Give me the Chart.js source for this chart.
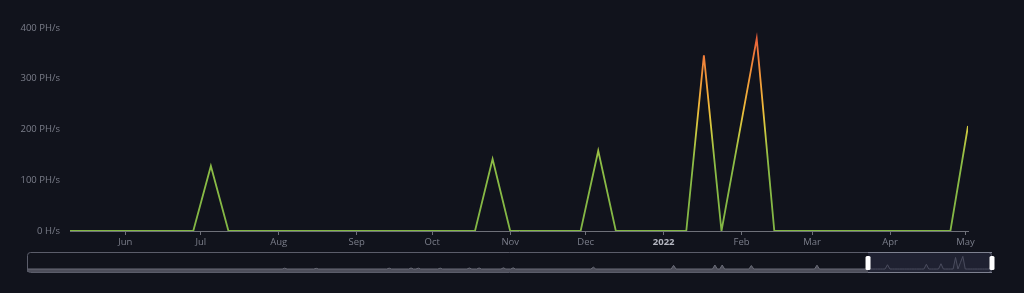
<!DOCTYPE html>
<html>
<head>
<meta charset="utf-8">
<script src="https://cdn.jsdelivr.net/npm/chart.js@4/dist/chart.umd.min.js"></script>
<style>
  html, body { margin: 0; padding: 0; background: #11131c; }
  #wrap { position: relative; width: 1024px; height: 293px; overflow: hidden; }
  #main { position: absolute; left: 0; top: 0; }
  #zoom { position: absolute; left: 0; top: 245px; }
</style>
</head>
<body>
<div id="wrap">
  <canvas id="main" width="1024" height="252"></canvas>
  <canvas id="zoom" width="1024" height="35"></canvas>
</div>
<script>
// weekly hashrate, first point = 10 May 2021 (day 0)
const weekDays = [
  0, 7, 14, 21, 28, 35, 42, 49, 56, 63, 70, 77, 84, 91, 98, 105, 112, 119, 126, 133,
  140, 147, 154, 161, 168, 175, 182, 189, 196, 203, 210, 217, 224, 231, 238, 245, 252, 259, 266, 273,
  280, 287, 294, 301, 308, 315, 322, 329, 336, 343, 350, 357
];
const hashrate = [
  0, 0, 0, 0, 0, 0, 0, 0, 128, 0, 0, 0, 0, 0, 0, 0, 0, 0, 0, 0,
  0, 0, 0, 0, 142, 0, 0, 0, 0, 0, 158, 0, 0, 0, 0, 0, 346, 0, 190, 379,
  0, 0, 0, 0, 0, 0, 0, 0, 0, 0, 0, 207
];

// month ticks (days since first point)
const monthDays = [22, 52, 83, 114, 144, 175, 205, 236, 267, 295, 326, 356];
const monthLabels = ['Jun', 'Jul', 'Aug', 'Sep', 'Oct', 'Nov', 'Dec', '2022', 'Feb', 'Mar', 'Apr', 'May'];

const yTicks = [0, 100, 200, 300, 400];
const yTickLabels = ['0 H/s', '100 PH/s', '200 PH/s', '300 PH/s', '400 PH/s'];

// older history for the zoom slider (weeks relative to first point)
const historyWeeks = [
  -346, -241, -240, -239, -228, -227, -226, -198, -197, -196, -189, -188, -187, -186, -185, -184,
  -177, -176, -175, -165, -164, -163, -161, -160, -159, -151, -150, -149, -147, -146, -145,
  -114, -113, -112, -81, -80, -79, -64, -63, -62, -61, -60, -59, -49, -48, -47, -22, -21, -20, -1
];
const historyValues = [
  0, 0, 25, 0, 0, 20, 0, 0, 25, 0, 0, 30, 0, 0, 25, 0,
  0, 25, 0, 0, 30, 0, 0, 30, 0, 0, 35, 0, 0, 35, 0,
  0, 55, 0, 0, 110, 0, 0, 120, 0, 0, 120, 0, 0, 105, 0, 0, 115, 0, 0
];

const axisGrey = '#6e7079';
const labelGrey = '#7b7e8a';
const font = { family: '"Open Sans", "Noto Sans", sans-serif', size: 9.5 };

function lineGradient(context) {
  const chart = context.chart;
  const area = chart.chartArea;
  if (!area) return '#84b845';
  const y = chart.scales.y;
  const g = chart.ctx.createLinearGradient(0, y.getPixelForValue(0), 0, y.getPixelForValue(400));
  g.addColorStop(0, '#82b645');
  g.addColorStop(0.35, '#8dbd46');
  g.addColorStop(0.5, '#cfca40');
  g.addColorStop(0.6, '#efbb3b');
  g.addColorStop(0.75, '#f29a3a');
  g.addColorStop(0.87, '#f07a3a');
  g.addColorStop(1, '#e6523a');
  return g;
}

new Chart(document.getElementById('main'), {
  type: 'line',
  data: {
    datasets: [{
      data: weekDays.map((d, i) => ({ x: d, y: hashrate[i] })),
      borderColor: lineGradient,
      borderWidth: 1.8,
      pointRadius: 0,
      tension: 0,
      fill: false
    }]
  },
  options: {
    responsive: false,
    animation: false,
    layout: { padding: { top: 28, right: 56, left: 0, bottom: 0 } },
    plugins: { legend: { display: false }, tooltip: { enabled: false } },
    scales: {
      x: {
        type: 'linear',
        min: 0,
        max: 357,
        afterBuildTicks: (scale) => { scale.ticks = monthDays.map(v => ({ value: v })); },
        afterFit: (scale) => { scale.height = 21; },
        ticks: {
          autoSkip: false,
          maxRotation: 0,
          padding: 2,
          callback: (v) => monthLabels[monthDays.indexOf(v)],
          color: (c) => c.tick && c.tick.label === '2022' ? '#b4b6c0' : labelGrey,
          font: (c) => c.tick && c.tick.label === '2022' ? { ...font, weight: 'bold' } : font
        },
        grid: { display: true, drawOnChartArea: false, drawTicks: true, tickLength: 4, color: axisGrey },
        border: { display: true, color: axisGrey }
      },
      y: {
        min: 0,
        max: 400,
        afterBuildTicks: (scale) => { scale.ticks = yTicks.map(v => ({ value: v })); },
        afterFit: (scale) => { scale.width = 70; },
        ticks: {
          padding: 10,
          color: labelGrey,
          font: font,
          callback: (v) => yTickLabels[yTicks.indexOf(v)]
        },
        grid: { display: false, drawTicks: false },
        border: { display: false }
      }
    }
  }
});

// ---- zoom slider ----
const selStart = 0, selEnd = 51;

const sliderFrame = {
  id: 'sliderFrame',
  beforeDatasetsDraw(chart) {
    const { ctx } = chart;
    const x = chart.scales.x;
    const left = 27, right = 992, top = 7, bottom = 28;
    const sx0 = x.getPixelForValue(selStart), sx1 = x.getPixelForValue(selEnd);
    ctx.save();
    ctx.fillStyle = '#1f2131';
    ctx.fillRect(sx0, top, sx1 - sx0, bottom - top);
    ctx.restore();
    chart.$frame = { left, right, top, bottom, sx0, sx1 };
  },
  afterDraw(chart) {
    const { ctx } = chart;
    const f = chart.$frame;
    ctx.save();
    ctx.strokeStyle = '#5b5d6a';
    ctx.lineWidth = 1;
    ctx.beginPath();
    ctx.roundRect(f.left + 0.5, f.top + 0.5, f.right - f.left - 1, f.bottom - f.top - 1, 3);
    ctx.stroke();
    ctx.strokeStyle = '#7e8190';
    ctx.beginPath();
    ctx.moveTo(f.sx0, f.top + 0.5); ctx.lineTo(f.sx1, f.top + 0.5);
    ctx.moveTo(f.sx0, f.bottom - 0.5); ctx.lineTo(f.sx1, f.bottom - 0.5);
    ctx.stroke();
    ctx.fillStyle = '#ffffff';
    [f.sx0, f.sx1].forEach(hx => {
      ctx.beginPath();
      ctx.roundRect(hx - 2.5, 11, 5, 14, 1.5);
      ctx.fill();
    });
    ctx.restore();
  }
};

const sliderWeeks = historyWeeks.concat(weekDays.map(d => d / 7));
const sliderValues = historyValues.concat(hashrate);

new Chart(document.getElementById('zoom'), {
  type: 'line',
  data: {
    datasets: [{
      data: sliderWeeks.map((w, i) => ({ x: w, y: sliderValues[i] })),
      borderWidth: 1,
      pointRadius: 0,
      tension: 0,
      fill: 'start',
      segment: {
        borderColor: (c) => c.p0.parsed.x >= selStart ? '#4a4c5e' : '#6a6c78',
        backgroundColor: (c) => c.p0.parsed.x >= selStart ? 'rgba(40,42,58,0.6)' : 'rgba(92,94,106,0.8)'
      }
    }]
  },
  options: {
    responsive: false,
    animation: false,
    layout: { padding: { top: 10, right: 32, left: 27, bottom: 8 } },
    plugins: { legend: { display: false }, tooltip: { enabled: false } },
    scales: {
      x: { type: 'linear', min: -346, max: 51, display: false },
      y: { min: -90, max: 420, display: false }
    }
  },
  plugins: [sliderFrame]
});
</script>
</body>
</html>
